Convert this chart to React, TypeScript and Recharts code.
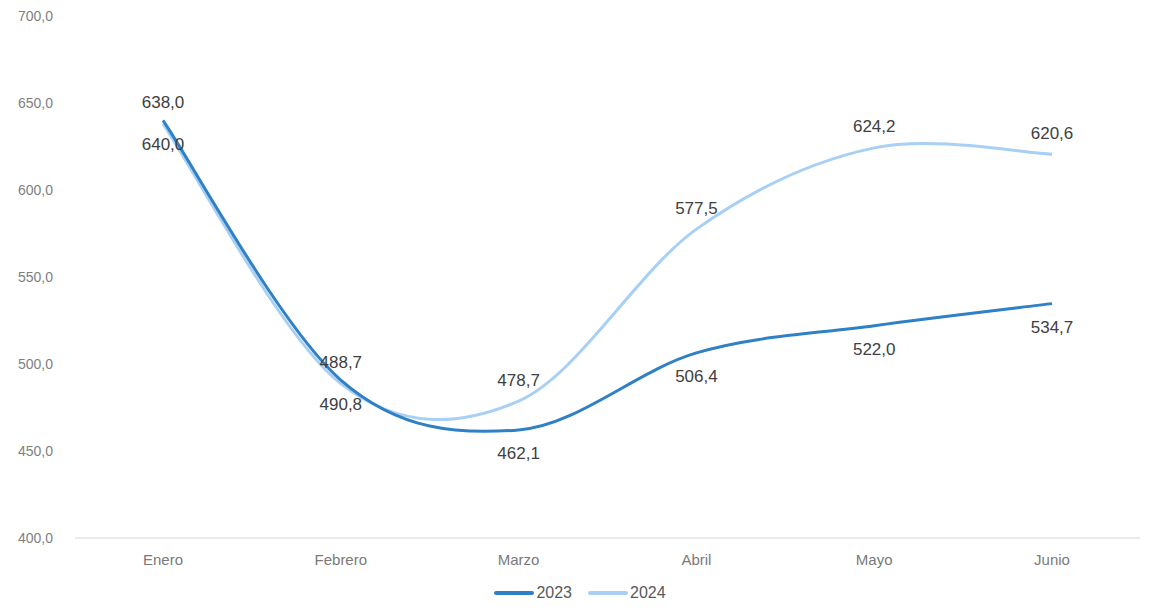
import React from "react";
import { LineChart, Line, XAxis, YAxis, LabelList, Legend } from "recharts";

const categories = ["Enero", "Febrero", "Marzo", "Abril", "Mayo", "Junio"];
const values2023 = [640.0, 490.8, 462.1, 506.4, 522.0, 534.7];
const values2024 = [638.0, 488.7, 478.7, 577.5, 624.2, 620.6];
const yTicks = [400, 450, 500, 550, 600, 650, 700];
const seriesNames = ["2023", "2024"];
const seriesColors = ["#2F80C4", "#A8D0F4"];

const data = categories.map((c, i) => ({ name: c, y2023: values2023[i], y2024: values2024[i] }));

const fmt = (v: number) => v.toFixed(1).replace(".", ",");

// Excel-like smoothed curve (Catmull-Rom style bezier)
function smoothCurve(context: any) {
  let pts: number[][] = [];
  return {
    areaStart() {},
    areaEnd() {},
    lineStart() {
      pts = [];
    },
    point(x: number, y: number) {
      pts.push([+x, +y]);
    },
    lineEnd() {
      if (!pts.length) return;
      context.moveTo(pts[0][0], pts[0][1]);
      for (let i = 0; i < pts.length - 1; i++) {
        const p0 = pts[i - 1] || pts[i];
        const p1 = pts[i];
        const p2 = pts[i + 1];
        const p3 = pts[i + 2] || p2;
        const c1x = p1[0] + (p2[0] - p0[0]) / 6;
        const c1y = p1[1] + (p2[1] - p0[1]) / 6;
        const c2x = p2[0] - (p3[0] - p1[0]) / 6;
        const c2y = p2[1] - (p3[1] - p1[1]) / 6;
        context.bezierCurveTo(c1x, c1y, c2x, c2y, p2[0], p2[1]);
      }
    },
  };
}

const FONT = "'Liberation Sans', Arial, sans-serif";

const makeLabel = (dy: number) => (props: any) => {
  const { x, y, value } = props;
  return (
    <text x={x} y={y + dy} textAnchor="middle" dominantBaseline="central" fill="#404040" fontSize={17} fontFamily={FONT}>
      {fmt(value)}
    </text>
  );
};

const LegendContent = () => (
  <div style={{ display: "flex", justifyContent: "center", alignItems: "center", fontFamily: FONT, fontSize: 16, color: "#595959", paddingLeft: 8 }}>
    {seriesNames.map((n, i) => (
      <div key={n} style={{ display: "flex", alignItems: "center", marginRight: i === 0 ? 16 : 0 }}>
        <div style={{ width: 40, height: 4, background: seriesColors[i], marginRight: 2, borderRadius: 2 }} />
        <span>{n}</span>
      </div>
    ))}
  </div>
);

export default function App() {
  return (
    <div style={{ position: "absolute", left: 0, top: 0, width: 1152, height: 613, background: "#fff" }}>
      <LineChart width={1152} height={613} data={data} margin={{ top: 16, right: 12, left: 0, bottom: 21 }}>
        <XAxis
          dataKey="name"
          axisLine={{ stroke: "#e3e3e3", strokeWidth: 1.5 }}
          tickLine={false}
          tickMargin={10}
          height={30}
          padding={{ left: 88, right: 88 }}
          tick={{ fill: "#7a7a7a", fontSize: 15, fontFamily: FONT }}
        />
        <YAxis
          domain={[400, 700]}
          ticks={yTicks}
          width={75}
          axisLine={false}
          tickLine={false}
          tickFormatter={fmt}
          tick={{ fill: "#7f7f7f", fontSize: 14, fontFamily: FONT, dx: -14 }}
        />
        <Legend verticalAlign="bottom" content={<LegendContent />} wrapperStyle={{ top: 584, left: 0, width: 1152, height: 24 }} />
        <Line
          dataKey="y2024"
          name="2024"
          stroke={seriesColors[1]}
          strokeWidth={3}
          dot={false}
          type={smoothCurve as any}
          isAnimationActive={false}
        >
          <LabelList dataKey="y2024" content={makeLabel(-21)} />
        </Line>
        <Line
          dataKey="y2023"
          name="2023"
          stroke={seriesColors[0]}
          strokeWidth={3}
          dot={false}
          type={smoothCurve as any}
          isAnimationActive={false}
        >
          <LabelList dataKey="y2023" content={makeLabel(24)} />
        </Line>
      </LineChart>
    </div>
  );
}
